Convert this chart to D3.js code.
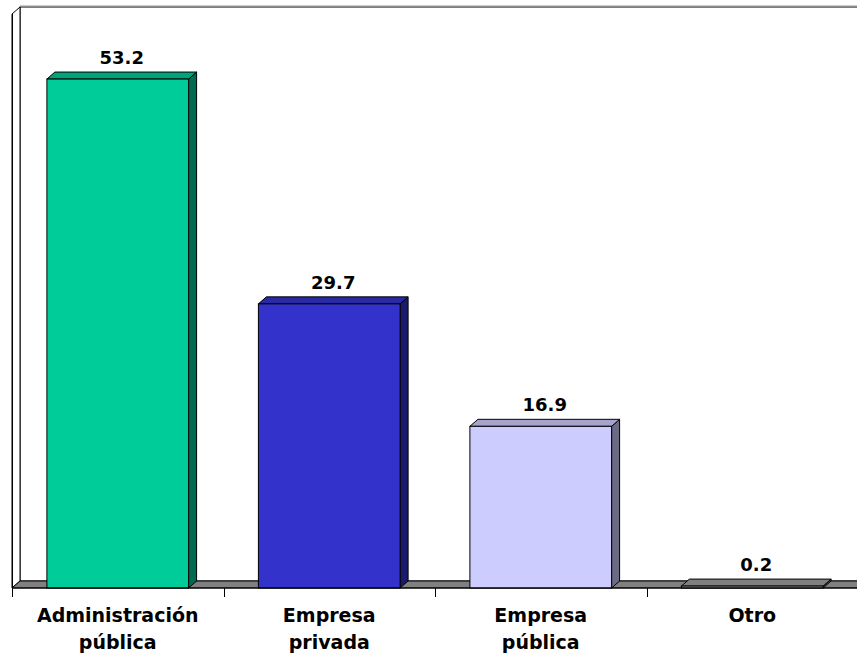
<!DOCTYPE html>
<html>
<head>
<meta charset="utf-8">
<script src="https://cdn.jsdelivr.net/npm/d3@7"></script>
<style>
  html, body { margin: 0; padding: 0; background: #fff; }
  svg { display: block; }
  text { font-family: "DejaVu Sans", Verdana, sans-serif; font-weight: bold; fill: #000; }
</style>
</head>
<body>
<svg id="chart" width="857" height="659"></svg>
<script>
const categories = ["Administración\npública", "Empresa\nprivada", "Empresa\npública", "Otro"];
const values = [53.2, 29.7, 16.9, 0.2];
const frontColors = ["#00CC99", "#3333CC", "#CCCCFF", "#B0B0B0"];
const topColors   = ["#00A47B", "#2929A3", "#A4A4CC", "#808080"];
const sideColors  = ["#006B50", "#1B1B6B", "#6B6B86", "#555555"];
const yDomain = [0, 60];

const svg = d3.select("#chart");
const W = 857, H = 659;
const left = 12, right = 858, baseY = 588, topY = 14;
const dx = 8, dy = -7;

const x = d3.scaleBand().domain(categories).range([left, right]).paddingInner(0.33).paddingOuter(0.165);
const y = d3.scaleLinear().domain(yDomain).range([baseY, topY]);

// back wall
svg.append("rect")
  .attr("x", left + dx).attr("y", y(yDomain[1]) + dy)
  .attr("width", W + 10).attr("height", (baseY + dy) - (y(yDomain[1]) + dy))
  .attr("fill", "#fff").attr("stroke", "#000").attr("stroke-width", 1);
svg.append("line")
  .attr("x1", left + dx).attr("x2", W + 5)
  .attr("y1", y(yDomain[1]) + dy - 1).attr("y2", y(yDomain[1]) + dy - 1)
  .attr("stroke", "#999").attr("stroke-width", 1);

// left side wall
svg.append("polygon")
  .attr("points", [[left, y(yDomain[1])], [left + dx, y(yDomain[1]) + dy], [left + dx, baseY + dy], [left, baseY]].map(p => p.join(",")).join(" "))
  .attr("fill", "#fff").attr("stroke", "#000").attr("stroke-width", 1);

// floor
svg.append("polygon")
  .attr("points", [[left, baseY], [left + dx, baseY + dy], [W + 20, baseY + dy], [W + 20, baseY]].map(p => p.join(",")).join(" "))
  .attr("fill", "#808080").attr("stroke", "#000").attr("stroke-width", 1);

// bars
const bw = x.bandwidth();
const bars = svg.append("g").selectAll("g").data(values).join("g");
bars.each(function(v, i) {
  const g = d3.select(this);
  const x0 = x(categories[i]), x1 = x0 + bw;
  const yt = y(v), yb = y(0);
  g.append("polygon")
    .attr("points", [[x1, yb], [x1, yt], [x1 + dx, yt + dy], [x1 + dx, yb + dy]].map(p => p.join(",")).join(" "))
    .attr("fill", sideColors[i]).attr("stroke", "#000").attr("stroke-width", 1).attr("stroke-linejoin", "round");
  g.append("polygon")
    .attr("points", [[x0, yt], [x0 + dx, yt + dy], [x1 + dx, yt + dy], [x1, yt]].map(p => p.join(",")).join(" "))
    .attr("fill", topColors[i]).attr("stroke", "#000").attr("stroke-width", 1).attr("stroke-linejoin", "round");
  g.append("rect")
    .attr("x", x0).attr("y", yt).attr("width", bw).attr("height", Math.max(yb - yt, 0.5))
    .attr("fill", frontColors[i]).attr("stroke", "#000").attr("stroke-width", 1);
  g.append("text")
    .attr("x", x0 + bw / 2 + dx / 2).attr("y", yt + dy - 8)
    .attr("text-anchor", "middle").attr("font-size", 18)
    .text(v.toFixed(1));
});

// x axis line and ticks
svg.append("line").attr("x1", left).attr("x2", W).attr("y1", baseY).attr("y2", baseY)
  .attr("stroke", "#000").attr("stroke-width", 1);
const step = x.step();
const tickXs = d3.range(categories.length + 1).map(k => left + k * step);
svg.append("g").selectAll("line").data(tickXs).join("line")
  .attr("x1", d => Math.round(d) + 0.5).attr("x2", d => Math.round(d) + 0.5)
  .attr("y1", baseY).attr("y2", baseY + 9)
  .attr("stroke", "#000").attr("stroke-width", 1);
svg.append("line").attr("x1", left + 0.5).attr("x2", left + 0.5).attr("y1", y(yDomain[1])).attr("y2", baseY)
  .attr("stroke", "#000");

// category labels
const lab = svg.append("g").selectAll("text").data(categories).join("text")
  .attr("text-anchor", "middle").attr("font-size", 19)
  .attr("x", d => x(d) + bw / 2)
  .attr("y", 622);
lab.each(function(d) {
  const t = d3.select(this);
  d.split("\n").forEach((line, j) => {
    t.append("tspan").attr("x", x(d) + bw / 2).attr("dy", j === 0 ? 0 : 27).text(line);
  });
});
</script>
</body>
</html>
